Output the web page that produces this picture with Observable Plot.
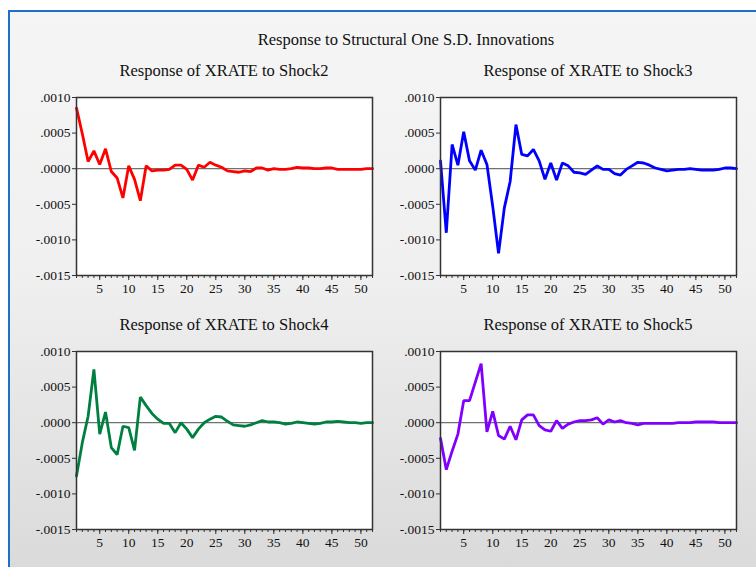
<!DOCTYPE html>
<html>
<head>
<meta charset="utf-8">
<script src="https://cdn.jsdelivr.net/npm/d3@7"></script>
<script src="https://cdn.jsdelivr.net/npm/@observablehq/plot@0.6"></script>
<style>
  html, body { margin: 0; padding: 0; background: #ffffff; }
  #page { position: relative; width: 756px; height: 567px; overflow: hidden; background: #ffffff; }
  #panel-bg {
    position: absolute; left: 8px; top: 10px; width: 760px; height: 570px;
    border-left: 2px solid #1f6fc5; border-top: 2px solid #1f6fc5;
    background: linear-gradient(#f5f5f5, #f0f0f0 45%, #d9d9d9);
  }
  .title { position: absolute; font-family: "Liberation Serif", "DejaVu Serif", serif; font-size: 16.5px; line-height: 20px; color: #111; white-space: nowrap; transform: translateX(-50%); }
  .cell { position: absolute; }
</style>
</head>
<body>
<div id="page">
  <div id="panel-bg"></div>
  <div class="title" style="left:406px; top:30px;">Response to Structural One S.D. Innovations</div>
</div>
<script>
// Impulse horizon (periods 1..52)
const periods = d3.range(1, 53);

// Response of XRATE to each structural shock
const shock2 = [0.00085, 0.00049, 0.00010, 0.00025, 0.00006, 0.00028, -0.00004, -0.00013, -0.00041, 0.00004,
  -0.00015, -0.00045, 0.00004, -0.00003, -0.00002, -0.00002, -0.00001, 0.00005, 0.00005, -0.00001,
  -0.00016, 0.00005, 0.00002, 0.00009, 0.00005, 0.00002, -0.00003, -0.00004, -0.00005, -0.00003,
  -0.00004, 0.00001, 0.00001, -0.00002, 0.00000, -0.00001, -0.00001, 0.00000, 0.00002, 0.00001,
  0.00001, 0.00000, 0.00000, 0.00001, 0.00001, -0.00001, -0.00001, -0.00001, -0.00001, -0.00001,
  0.00000, 0.00000];
const shock3 = [0.00011, -0.00090, 0.00034, 0.00005, 0.00052, 0.00011, -0.00002, 0.00026, 0.00006, -0.00053,
  -0.00119, -0.00055, -0.00018, 0.00062, 0.00020, 0.00018, 0.00027, 0.00011, -0.00015, 0.00008,
  -0.00016, 0.00008, 0.00004, -0.00005, -0.00006, -0.00008, -0.00002, 0.00004, -0.00001, -0.00001,
  -0.00007, -0.00009, -0.00001, 0.00004, 0.00009, 0.00008, 0.00005, 0.00001, -0.00001, -0.00003,
  -0.00002, -0.00001, -0.00001, 0.00000, -0.00001, -0.00002, -0.00002, -0.00002, -0.00001, 0.00001,
  0.00001, 0.00000];
const shock4 = [-0.00075, -0.00028, 0.00009, 0.00075, -0.00016, 0.00015, -0.00035, -0.00045, -0.00005, -0.00007,
  -0.00039, 0.00036, 0.00024, 0.00013, 0.00005, -0.00001, -0.00001, -0.00014, 0.00000, -0.00009,
  -0.00021, -0.00009, 0.00000, 0.00005, 0.00009, 0.00008, 0.00002, -0.00003, -0.00004, -0.00005,
  -0.00003, 0.00000, 0.00003, 0.00001, 0.00001, 0.00000, -0.00002, -0.00001, 0.00001, 0.00000,
  -0.00001, -0.00002, -0.00001, 0.00001, 0.00001, 0.00002, 0.00001, 0.00000, 0.00000, -0.00001,
  0.00000, 0.00000];
const shock5 = [-0.00022, -0.00066, -0.00040, -0.00016, 0.00031, 0.00031, 0.00057, 0.00083, -0.00013, 0.00016,
  -0.00018, -0.00023, -0.00005, -0.00024, 0.00004, 0.00011, 0.00011, -0.00004, -0.00010, -0.00012,
  0.00003, -0.00008, -0.00002, 0.00001, 0.00003, 0.00003, 0.00004, 0.00007, -0.00002, 0.00004,
  0.00001, 0.00003, 0.00000, -0.00001, -0.00003, -0.00001, -0.00001, -0.00001, -0.00001, -0.00001,
  -0.00001, 0.00000, 0.00000, 0.00000, 0.00001, 0.00001, 0.00001, 0.00001, 0.00000, 0.00000,
  0.00000, 0.00000];

// Axis ticks
const yTicks = [0.0010, 0.0005, 0.0000, -0.0005, -0.0010, -0.0015];
const xMajorTicks = [5, 10, 15, 20, 25, 30, 35, 40, 45, 50];

const panels = [
  {title: "Response of XRATE to Shock2", values: shock2, color: "#ff0000", left: 20, top: 90},
  {title: "Response of XRATE to Shock3", values: shock3, color: "#0000ff", left: 384, top: 90},
  {title: "Response of XRATE to Shock4", values: shock4, color: "#008040", left: 20, top: 344},
  {title: "Response of XRATE to Shock5", values: shock5, color: "#8000ff", left: 384, top: 344}
];

const fmtY = d => (d < 0 ? "-" : "") + d3.format(".4f")(Math.abs(d)).replace(/^0/, "");
const tickFont = {fontFamily: "Liberation Serif", fontSize: 13.5, fill: "#111"};

const page = document.getElementById("page");

for (const p of panels) {
  const data = periods.map((t, i) => ({t, v: p.values[i]}));
  const chart = Plot.plot({
    width: 356,
    height: 215,
    marginLeft: 56,
    marginRight: 4,
    marginTop: 7,
    marginBottom: 30,
    style: {background: "transparent"},
    x: {domain: [1, 52]},
    y: {domain: [-0.0015, 0.0010]},
    marks: [
      Plot.frame({fill: "white", stroke: null}),
      Plot.ruleY([0], {stroke: "#707070", strokeWidth: 1.2}),
      Plot.line(data, {x: "t", y: "v", stroke: p.color, strokeWidth: 2.8, strokeLinejoin: "miter"}),
      Plot.frame({stroke: "#333", strokeWidth: 1.5}),
      Plot.axisY({ticks: yTicks, tickFormat: fmtY, tickSize: 4, tickPadding: 2, label: null, stroke: "#333", ...tickFont}),
      Plot.axisX({ticks: periods, tickSize: 3, tickFormat: () => "", label: null, stroke: "#333"}),
      Plot.axisX({ticks: xMajorTicks, tickSize: 5, tickPadding: 3, label: null, stroke: "#333", ...tickFont})
    ]
  });
  const cell = document.createElement("div");
  cell.className = "cell";
  cell.style.left = p.left + "px";
  cell.style.top = p.top + "px";
  cell.appendChild(chart);
  page.appendChild(cell);

  const t = document.createElement("div");
  t.className = "title";
  t.textContent = p.title;
  t.style.left = (p.left + 56 + 148) + "px";
  t.style.top = (p.top - 29) + "px";
  page.appendChild(t);
}
</script>
</body>
</html>
